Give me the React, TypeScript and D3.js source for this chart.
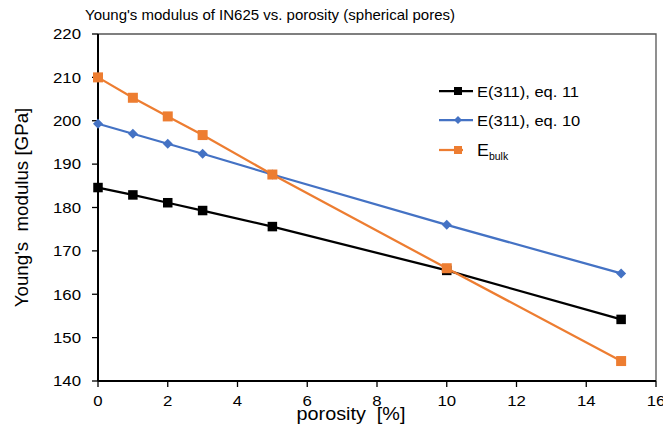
import React from "react";
import * as d3 from "d3";

const porosity = [0, 1, 2, 3, 5, 10, 15];
const eq11 = [184.6, 182.9, 181.1, 179.3, 175.6, 165.5, 154.2];
const eq10 = [199.3, 197.0, 194.7, 192.4, 187.6, 176.0, 164.8];
const bulk = [210.0, 205.3, 201.0, 196.7, 187.6, 166.0, 144.6];
const xTicks = [0, 2, 4, 6, 8, 10, 12, 14, 16];
const yTicks = [140, 150, 160, 170, 180, 190, 200, 210, 220];

const W = 663, H = 435;
const FONT = "Liberation Sans, Arial, sans-serif";
const SX = 1.12;

function SText(props: { x: number; y: number; size: number; anchor?: string; sx?: number; rot?: number; children: React.ReactNode }) {
  const { x, y, size, anchor = "start", sx = SX, rot = 0, children } = props;
  return (
    <text
      transform={`translate(${x},${y}) rotate(${rot}) scale(${sx},1)`}
      fontSize={size}
      textAnchor={anchor}
      xmlSpace="preserve"
      fill="#000"
    >
      {children}
    </text>
  );
}

export default function App() {
  const x = d3.scaleLinear().domain([0, 16]).range([98, 656]);
  const y = d3.scaleLinear().domain([140, 220]).range([381, 34]);
  const line = (vals: number[]) =>
    d3.line<number>().x((_, i) => x(porosity[i])).y((d) => y(d))(vals) || "";
  const sq = (cx: number, cy: number, s: number, c: string, k: string) => (
    <rect key={k} x={cx - s / 2} y={cy - s / 2} width={s} height={s} fill={c} />
  );
  const dia = (cx: number, cy: number, s: number, c: string, k: string) => (
    <path key={k} d={`M${cx},${cy - s / 2}L${cx + s / 2},${cy}L${cx},${cy + s / 2}L${cx - s / 2},${cy}Z`} fill={c} />
  );
  const BLUE = "#4472C4", ORANGE = "#ED7D31";
  return (
    <svg width={W} height={H} style={{ position: "absolute", left: 0, top: 0, background: "#fff" }} fontFamily={FONT}>
      <SText x={270} y={20} size={15} anchor="middle" sx={1}>
        Young's modulus of IN625 vs. porosity (spherical pores)
      </SText>
      {/* plot frame top/right */}
      <path d={`M${x(0)},${y(220)}H${x(16)}V${y(140)}`} fill="none" stroke="#555" strokeWidth={1.3} />
      {/* axes */}
      <line x1={x(0)} x2={x(0)} y1={y(220)} y2={y(140)} stroke="#000" strokeWidth={2} />
      <line x1={x(0)} x2={x(16)} y1={y(140)} y2={y(140)} stroke="#000" strokeWidth={2} />
      {yTicks.map((t) => (
        <g key={"y" + t}>
          <line x1={x(0) - 6} x2={x(0)} y1={y(t)} y2={y(t)} stroke="#000" strokeWidth={1.3} />
          <SText x={81} y={y(t) + 5.3} size={15} anchor="end">{t}</SText>
        </g>
      ))}
      {xTicks.map((t) => (
        <g key={"x" + t}>
          <line x1={x(t)} x2={x(t)} y1={y(140)} y2={y(140) + 6} stroke="#000" strokeWidth={1.3} />
          <SText x={x(t)} y={405.5} size={15} anchor="middle">{t}</SText>
        </g>
      ))}
      <SText x={351} y={419.5} size={18} anchor="middle" sx={1.1}>porosity  [%]</SText>
      <SText x={28} y={207.5} size={18} anchor="middle" rot={-90} sx={1.04}>Young's  modulus [GPa]</SText>
      {/* series */}
      <path d={line(eq11)} fill="none" stroke="#000" strokeWidth={2.25} />
      {eq11.map((v, i) => sq(x(porosity[i]), y(v), 9.5, "#000", "b" + i))}
      <path d={line(eq10)} fill="none" stroke={BLUE} strokeWidth={2.25} />
      {eq10.map((v, i) => dia(x(porosity[i]), y(v), 10, BLUE, "d" + i))}
      <path d={line(bulk)} fill="none" stroke={ORANGE} strokeWidth={2.25} />
      {bulk.map((v, i) => sq(x(porosity[i]), y(v), 10, ORANGE, "o" + i))}
      {/* legend */}
      <g>
        <line x1={439} x2={473} y1={91} y2={91} stroke="#000" strokeWidth={2.25} />
        {sq(458, 91, 8, "#000", "l1")}
        <SText x={477} y={96.5} size={15} sx={1.1}>E(311), eq. 11</SText>
        <line x1={439} x2={473} y1={120} y2={120} stroke={BLUE} strokeWidth={2.25} />
        {dia(458, 120, 8, BLUE, "l2")}
        <SText x={477} y={125.5} size={15} sx={1.1}>E(311), eq. 10</SText>
        <line x1={439} x2={463} y1={150} y2={150} stroke={ORANGE} strokeWidth={2.25} />
        {sq(458, 150, 8, ORANGE, "l3")}
        <SText x={477} y={156} size={17} sx={1.05}>E<tspan fontSize={10} dy={4}>bulk</tspan></SText>
      </g>
    </svg>
  );
}
